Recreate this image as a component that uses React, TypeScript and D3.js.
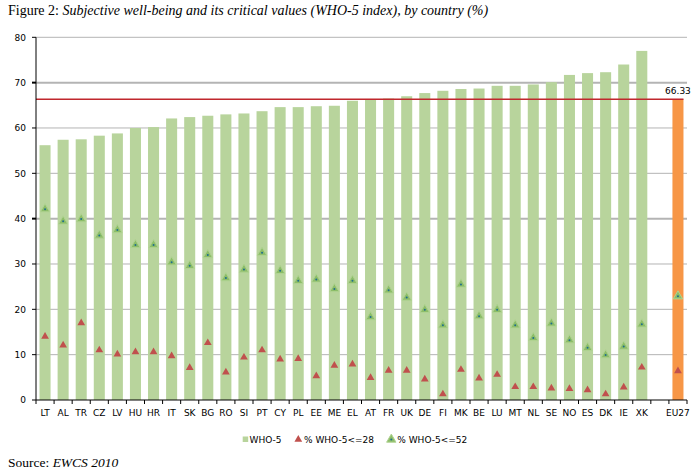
import React from "react";
import * as d3 from "d3";

const countries = ["LT","AL","TR","CZ","LV","HU","HR","IT","SK","BG","RO","SI","PT","CY","PL","EE","ME","EL","AT","FR","UK","DE","FI","MK","BE","LU","MT","NL","SE","NO","ES","DK","IE","XK","EU27"];
const who5 = [56.2,57.4,57.5,58.3,58.8,60.0,60.2,62.1,62.4,62.7,63.0,63.2,63.7,64.6,64.6,64.8,64.9,66.0,66.4,66.5,67.0,67.7,68.2,68.6,68.7,69.3,69.3,69.6,70.1,71.7,72.1,72.3,74.0,77.0,66.33];
const le28 = [14.0,12.1,17.0,11.0,10.1,10.6,10.6,9.7,7.1,12.6,6.1,9.4,11.0,9.0,9.1,5.3,7.6,7.9,4.9,6.5,6.5,4.6,1.3,6.7,4.8,5.6,2.9,2.9,2.6,2.5,2.2,1.3,2.8,7.2,6.4];
const le52 = [42.1,39.4,39.9,36.3,37.5,34.2,34.2,30.4,29.6,32.0,26.9,28.8,32.5,28.5,26.3,26.6,24.5,26.3,18.3,24.2,22.6,19.9,16.5,25.5,18.5,19.9,16.5,13.7,16.9,13.2,11.5,9.9,11.8,16.7,22.9];
const euValue = 66.33;
const yTicks = [0,10,20,30,40,50,60,70,80];
const legendLabels = ["WHO-5", "% WHO-5<=28", "% WHO-5<=52"];

const W = 698, H = 472;
const left = 36, right = 687, top = 37.3, bottom = 400;
const font = "'DejaVu Sans', Verdana, sans-serif";
const serif = "'Liberation Serif', 'Times New Roman', serif";

export default function App() {
  const domain = [...countries.slice(0, -1), "__gap", "EU27"];
  const x = d3.scaleBand<string>().domain(domain).range([left, right]).padding(0);
  const y = d3.scaleLinear().domain([0, 80]).range([bottom, top]);
  const bw = x.bandwidth();
  const barW = bw * 0.61;
  const cx = (c: string) => (x(c) as number) + bw / 2;
  const triRed = d3.symbol().type(d3.symbolTriangle).size(26)() as string;
  const triGreen = d3.symbol().type(d3.symbolTriangle).size(38)() as string;
  const euRight = cx("EU27") + barW / 2;

  return (
    <svg width={W} height={H} style={{ position: "absolute", left: 0, top: 0, background: "#fff" }}>
      <text x={8} y={14.5} fontFamily={serif} fontSize={14} fill="#000">
        Figure 2: <tspan fontStyle="italic">Subjective well-being and its critical values (WHO-5 index), by country (%)</tspan>
      </text>
      {yTicks.filter(t => t > 0).map(t => (
        <line key={t} x1={left} x2={right} y1={y(t)} y2={y(t)} stroke="#b4b4b4" strokeWidth={t === 70 || t === 40 ? 2 : 1} />
      ))}
      {countries.map((c, i) => (
        <rect key={c} x={cx(c) - barW / 2} y={y(who5[i])} width={barW} height={bottom - y(who5[i])}
          fill={c === "EU27" ? "#f79646" : "#b8d49c"} />
      ))}
      <line x1={left} x2={euRight} y1={y(euValue)} y2={y(euValue)} stroke="#c0272d" strokeWidth={1.6} />
      <text x={cx("EU27")} y={y(euValue) - 5} textAnchor="middle" fontFamily={font} fontSize={9} fill="#000">{euValue.toFixed(2)}</text>
      {countries.map((c, i) => (
        <g key={"g" + c} transform={`translate(${cx(c)},${y(le52[i])})`}>
          <path d={triGreen} fill="#8cbd68" stroke="#b0d392" strokeWidth={1} />
          <circle r={1} fill="#1f6f8b" />
        </g>
      ))}
      {countries.map((c, i) => (
        <path key={"r" + c} d={triRed} transform={`translate(${cx(c)},${y(le28[i])})`} fill="#c0504d" />
      ))}
      <line x1={left} x2={left} y1={top} y2={bottom} stroke="#000" />
      <line x1={left} x2={right} y1={bottom} y2={bottom} stroke="#000" />
      {yTicks.map(t => (
        <g key={"yt" + t}>
          <line x1={left - 4} x2={left} y1={y(t)} y2={y(t)} stroke="#000" strokeWidth={t === 70 || t === 40 ? 2 : 1} />
          <text x={26} y={y(t) + 3.2} textAnchor="end" fontFamily={font} fontSize={9} fill="#000">{t}</text>
        </g>
      ))}
      {domain.map(c => (
        <line key={"xt" + c} x1={x(c) as number} x2={x(c) as number} y1={bottom} y2={bottom + 4} stroke="#000" />
      ))}
      <line x1={right} x2={right} y1={bottom} y2={bottom + 4} stroke="#000" />
      {countries.map(c => (
        <text key={"xl" + c} x={cx(c)} y={416} textAnchor="middle" fontFamily={font} fontSize={9} fill="#000">{c}</text>
      ))}
      <rect x={242.7} y={436.5} width={5.5} height={5.5} fill="#b8d49c" />
      <text x={249.5} y={442.5} fontFamily={font} fontSize={9} fill="#000">{legendLabels[0]}</text>
      <path d={triRed} transform="translate(298.3,439.5)" fill="#c0504d" />
      <text x={304} y={442.5} fontFamily={font} fontSize={9} fill="#000">{legendLabels[1]}</text>
      <g transform="translate(391.3,439.5)">
        <path d={triGreen} fill="#8cbd68" stroke="#b0d392" strokeWidth={1} />
        <circle r={1} fill="#1f6f8b" />
      </g>
      <text x={397.3} y={442.5} fontFamily={font} fontSize={9} fill="#000">{legendLabels[2]}</text>
      <text x={8} y={466.5} fontFamily={serif} fontSize={13.5} fill="#000">
        Source: <tspan fontStyle="italic">EWCS 2010</tspan>
      </text>
    </svg>
  );
}
